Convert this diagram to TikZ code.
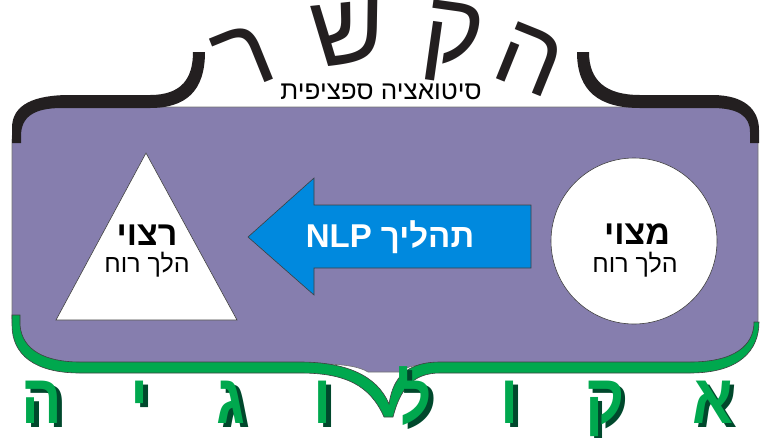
\documentclass[tikz,border=0pt]{standalone}
\usepackage{fontspec}
\setmainfont{Liberation Sans}
\newfontfamily\hebfont[Script=Hebrew]{Liberation Sans}
\newfontfamily\ecofont[Script=Hebrew, FakeStretch=0.86]{Liberation Sans}
\TeXXeTstate=1
\usetikzlibrary{calc}

\definecolor{bgpurple}{RGB}{134,126,174}
\definecolor{braceblack}{RGB}{35,31,32}
\definecolor{arrowblue}{RGB}{0,137,222}
\definecolor{ecogreen}{RGB}{0,168,78}
\definecolor{ecoshadow}{RGB}{0,72,44}

\begin{document}
\begin{tikzpicture}[
	x=1pt,
	y=-1pt,
	outline/.style={draw=black!75, line width=0.6pt},
	bigletter/.style={font=\hebfont\fontsize{102}{102}\selectfont, text=braceblack, anchor=base, inner sep=0pt},
	ecoletter/.style={font=\ecofont\bfseries\fontsize{70}{70}\selectfont, anchor=base, inner sep=0pt},
	heading/.style={font=\hebfont\bfseries\fontsize{34}{34}\selectfont, inner sep=0pt},
	subline/.style={font=\hebfont\fontsize{25}{25}\selectfont, inner sep=0pt}
  ]

  \useasboundingbox (0,0) rectangle (760,437);

  % purple field
  \path[fill=bgpurple, draw=black!55, line width=0.6pt]
    (12,140) -- (12,318) .. controls (12,345) and (35,364) .. (80,364)
    -- (320,364) .. controls (345,364) and (360,367) .. (368,372)
    -- (400,372) .. controls (405,366) and (420,364) .. (445,364)
    -- (690,364) .. controls (735,364) and (758,350) .. (758,320)
    -- (758,140) .. controls (758,118) and (740,107) .. (715,107)
    -- (60,107) .. controls (30,107) and (12,118) .. (12,140) -- cycle;

  % top brace
  \fill[braceblack] (12,143) -- (12,128) .. controls (12,104) and (35,95) .. (70,95)
    -- (150,95) .. controls (182,95) and (193,78) .. (193,52)
    -- (205,52) .. controls (205,92) and (185,108) .. (150,108)
    -- (62,108) .. controls (35,108) and (21,116) .. (21,136) -- (21,143) -- cycle;
  \fill[braceblack] (577,52) -- (589,52) .. controls (589,80) and (605,95) .. (640,95)
    -- (712,95) .. controls (745,95) and (759,110) .. (759,130) -- (759,143)
    -- (750,143) -- (750,132) .. controls (750,116) and (738,108) .. (712,108)
    -- (640,108) .. controls (600,108) and (577,92) .. (577,52) -- cycle;

  % bottom brace
  \path[fill=ecogreen, outline] (20,315) -- (20,325) .. controls (22,350) and (45,362) .. (80,362)
    -- (300,362) .. controls (345,362) and (377,375) .. (389,404)
    .. controls (392,385) and (400,362) .. (440,362)
    -- (690,362) .. controls (735,362) and (754,345) .. (754,322)
    -- (759,322) .. controls (759,350) and (740,373) .. (690,373)
    -- (440,373) .. controls (412,373) and (400,390) .. (393,417)
    -- (384,417) .. controls (370,385) and (345,373) .. (300,373)
    -- (80,373) .. controls (35,373) and (12,355) .. (12,325) -- (12,315) -- cycle;

  \foreach \ch/\x/\y/\ang [count=\i] in {ר/256/86/22, ש/352/64/6, ק/449/64/-8, ה/518/88/-22}
    \node[bigletter, rotate=\ang] (top\i) at (\x,\y) {\ch};

  \node[font=\hebfont\fontsize{26}{26}\selectfont, inner sep=0pt] (situation) at (381,92)
    {\beginR סיטואציה ספציפית\endR};

  % desired state
  \draw[outline, fill=white] (146,153) coordinate (apex) -- (56,320) coordinate (baseleft)
    -- (237,320) coordinate (baseright) -- cycle;
  \node[heading] (desired) at (147,235) {\beginR רצוי\endR};
  \node[subline] (desiredsub) at (147,265) {\beginR הלך רוח\endR};

  % process arrow
  \draw[outline, fill=arrowblue] (248,237) coordinate (tip) -- (314,178) -- (314,205) -- (531,205)
    -- (531,268) -- (314,268) -- (314,295) -- cycle;
  \node[font=\hebfont\bfseries\fontsize{33}{33}\selectfont, text=white, inner sep=0pt] (process)
    at (390,237) {\beginR תהליך \beginL NLP\endL\endR};

  % current state
  \node[circle, outline, fill=white, minimum size=166pt] (current) at (634,241) {};
  \node[heading] (currenthead) at (637,234) {\beginR מצוי\endR};
  \node[subline] (currentsub) at (635,265) {\beginR הלך רוח\endR};

  \foreach \ch/\x [count=\i] in {ה/42, י/140, ג/231, ו/323, ל/415, ו/510, ק/605, א/713} {
    \node[ecoletter, text=ecoshadow] (shadow\i) at (\x+4.5,427.5) {\ch};
    \node[ecoletter, text=ecogreen] (eco\i) at (\x,423) {\ch};
  }

\end{tikzpicture}
\end{document}
